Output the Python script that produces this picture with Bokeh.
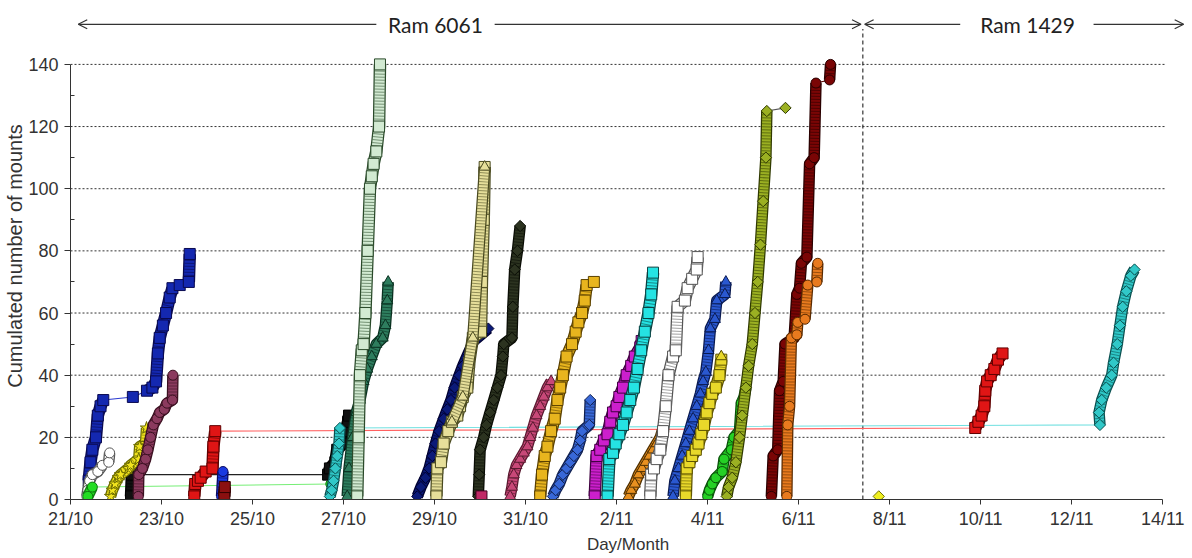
import math
from bokeh.plotting import figure
from bokeh.models import FixedTicker, Arrow, OpenHead, Title
from bokeh.core.properties import value
from bokeh.embed import file_html
from bokeh.resources import INLINE

# ---------------- axis ticks ----------------
x_ticks = [0, 2, 4, 6, 8, 10, 12, 14, 16, 18, 20, 22, 24]
x_tick_labels = ["21/10", "23/10", "25/10", "27/10", "29/10", "31/10", "2/11",
                 "4/11", "6/11", "8/11", "10/11", "12/11", "14/11"]
y_ticks = [0, 20, 40, 60, 80, 100, 120, 140]
y_minor = [10, 30, 50, 70, 90, 110, 130]

# days since 21/10 ; cumulated number of mounts
ram_change_day = 17.41
ram_labels = ["Ram 6061", "Ram 1429"]
ram_label_day = [8.02, 21.03]

blue_sq_x = [0.40, 0.44, 0.48, 0.56, 0.60, 0.66, 0.72, 1.37, 1.68, 1.80, 1.88, 1.92, 1.96, 2.03, 2.10, 2.18, 2.24, 2.40, 2.60, 2.62]
blue_sq_y = [6, 12, 16, 20, 27, 30, 32, 33, 35, 36, 38, 47, 52, 56, 60, 65, 68, 69, 70, 79]

white_ci_x = [0.36, 0.38, 0.42, 0.48, 0.60, 0.70, 0.84, 0.86]
white_ci_y = [1, 3, 6, 8, 9, 11, 12, 15]

green_ci1_x = [0.38, 0.48, 5.72]
green_ci1_y = [1, 4, 5]

black_sq_x = [1.33, 1.35, 5.66, 5.70, 5.82, 5.86, 5.98, 6.04, 6.10, 6.12]
black_sq_y = [1, 8, 8, 10, 12, 16, 18, 22, 25, 27]

yellow_star_x = [0.88, 0.92, 0.98, 1.05, 1.10, 1.27, 1.32, 1.50, 1.52, 1.65, 1.67]
yellow_star_y = [1, 3, 5, 7, 8, 10, 11, 13, 17, 18, 23]

mauve_ci_x = [1.49, 1.50, 1.58, 1.65, 1.70, 1.76, 1.82, 1.90, 1.96, 2.06, 2.12, 2.24, 2.25]
mauve_ci_y = [1, 8, 10, 13, 16, 20, 24, 26, 28, 29, 31, 32, 40]

red_sq_x = [2.72, 2.74, 2.80, 2.86, 2.97, 3.12, 3.14, 3.18, 19.88, 19.95, 20.02, 20.08, 20.10, 20.14, 20.22, 20.30, 20.38, 20.48]
red_sq_y = [1, 5, 6, 7, 9, 10, 17, 22, 23, 25, 27, 30, 35, 38, 40, 42, 45, 47]

blue_ci_x = [3.32, 3.35]
blue_ci_y = [1, 9]

darkred_sq_x = [3.38, 3.39]
darkred_sq_y = [1, 4]

cyan_di_x = [5.70, 5.74, 5.78, 5.82, 5.86, 5.90, 5.92, 22.62, 22.60, 22.66, 22.76, 22.88, 22.92, 23.00, 23.06, 23.12, 23.20, 23.30, 23.38]
cyan_di_y = [1, 3, 6, 10, 14, 18, 23, 24, 28, 32, 36, 40, 44, 50, 56, 62, 67, 72, 74]

dgreen_tri_x = [6.08, 6.12, 6.20, 6.28, 6.36, 6.44, 6.52, 6.62, 6.72, 6.86, 6.92, 6.96, 6.98]
dgreen_tri_y = [1, 10, 20, 28, 32, 38, 42, 46, 50, 52, 56, 64, 70]

lgreen_sq_x = [6.30, 6.33, 6.36, 6.40, 6.44, 6.48, 6.53, 6.58, 6.62, 6.66, 6.72, 6.78, 6.80]
lgreen_sq_y = [1, 20, 40, 48, 50, 60, 80, 100, 104, 108, 112, 120, 140]

navy_di_x = [7.62, 7.70, 7.80, 7.88, 7.95, 8.02, 8.10, 8.20, 8.28, 8.36, 8.44, 8.54, 8.62, 8.74, 8.86, 9.18]
navy_di_y = [1, 4, 7, 10, 14, 18, 22, 26, 29, 32, 36, 40, 43, 47, 51, 55]

khaki_sq_x = [8.04, 8.06, 8.14, 8.20, 8.30, 8.38, 8.50, 8.56, 8.62, 8.72, 8.76, 8.84, 9.02, 9.04, 9.08, 9.10]
khaki_sq_y = [1, 10, 12, 18, 22, 25, 27, 30, 33, 36, 44, 52, 54, 70, 90, 107]
khaki_tri_x = [8.38, 8.62, 8.84, 9.10]
khaki_tri_y = [25, 33, 52, 107]

dolive_di_x = [8.96, 8.98, 9.00, 9.08, 9.14, 9.22, 9.30, 9.38, 9.46, 9.50, 9.52, 9.70, 9.72, 9.76, 9.82, 9.88]
dolive_di_y = [1, 8, 16, 20, 24, 28, 32, 36, 40, 46, 50, 52, 62, 74, 80, 88]

crimson_sq_x = [9.03]
crimson_sq_y = [1]

pink_tri_x = [9.66, 9.70, 9.74, 9.80, 9.88, 9.96, 10.04, 10.10, 10.16, 10.24, 10.32, 10.40, 10.48, 10.56]
pink_tri_y = [1, 4, 8, 11, 13, 15, 17, 20, 23, 27, 30, 33, 36, 38]

gold_sq_x = [10.32, 10.36, 10.42, 10.48, 10.56, 10.64, 10.70, 10.76, 10.82, 10.90, 11.02, 11.10, 11.16, 11.24, 11.30, 11.34, 11.50]
gold_sq_y = [1, 8, 14, 17, 22, 26, 32, 36, 40, 46, 50, 54, 57, 60, 64, 69, 70]

blue_di_x = [10.60, 10.66, 10.74, 10.82, 10.90, 10.98, 11.06, 11.14, 11.20, 11.24, 11.40, 11.42]
blue_di_y = [1, 3, 5, 8, 10, 12, 14, 16, 19, 22, 24, 32]

magenta_sq_x = [11.52, 11.56, 11.64, 11.72, 11.80, 11.86, 11.92, 12.00, 12.06, 12.14, 12.22, 12.32, 12.40, 12.52, 12.55]
magenta_sq_y = [1, 14, 16, 19, 21, 25, 28, 30, 33, 36, 40, 43, 46, 49, 51]

cyan_sq_x = [11.80, 11.84, 11.92, 11.98, 12.06, 12.14, 12.22, 12.30, 12.38, 12.46, 12.54, 12.62, 12.70, 12.76, 12.80]
cyan_sq_y = [1, 13, 15, 18, 21, 24, 28, 32, 36, 42, 48, 54, 60, 66, 73]

orange_tri_x = [12.26, 12.32, 12.40, 12.48, 12.56, 12.64, 12.72, 12.80, 12.88, 12.96, 13.02]
orange_tri_y = [1, 3, 5, 8, 10, 12, 14, 16, 18, 20, 23]

white_sq_x = [12.74, 12.76, 12.82, 12.88, 12.96, 13.02, 13.08, 13.14, 13.24, 13.30, 13.34, 13.50, 13.56, 13.66, 13.76, 13.78]
white_sq_y = [1, 8, 10, 13, 16, 22, 30, 40, 46, 48, 62, 64, 68, 71, 74, 78]

blue_tri_x = [13.24, 13.28, 13.36, 13.44, 13.52, 13.60, 13.68, 13.76, 13.84, 13.90, 13.96, 14.02, 14.06, 14.16, 14.20, 14.38, 14.40]
blue_tri_y = [1, 6, 10, 14, 18, 22, 26, 30, 34, 38, 41, 48, 55, 58, 64, 66, 70]

yellow_sq_x = [13.52, 13.54, 13.60, 13.66, 13.74, 13.80, 13.86, 13.92, 13.98, 14.04, 14.10, 14.18, 14.26, 14.30]
yellow_sq_y = [1, 10, 12, 14, 16, 18, 21, 24, 28, 31, 34, 36, 40, 45]
yellow_tri_x = [14.30]
yellow_tri_y = [46]

green_ci2_x = [14.00, 14.04, 14.10, 14.18, 14.32, 14.36, 14.52, 14.58, 14.70, 14.74, 14.80, 14.84]
green_ci2_y = [1, 3, 5, 7, 9, 13, 16, 20, 22, 31, 33, 36]

olive_di_x = [14.42, 14.46, 14.54, 14.62, 14.70, 14.76, 14.84, 14.90, 14.98, 15.04, 15.10, 15.16, 15.22, 15.28, 15.30, 15.71]
olive_di_y = [1, 4, 7, 12, 20, 27, 36, 43, 50, 60, 70, 82, 96, 110, 125, 126]

maroon_ci_x = [15.40, 15.44, 15.54, 15.58, 15.66, 15.70, 15.90, 15.96, 16.02, 16.06, 16.18, 16.24, 16.34, 16.38, 16.68, 16.70]
maroon_ci_y = [1, 14, 16, 35, 38, 50, 52, 66, 68, 76, 78, 108, 110, 134, 135, 140]

orange_ci_x = [15.74, 15.76, 15.80, 15.84, 15.96, 15.98, 16.14, 16.20, 16.40, 16.42]
orange_ci_y = [1, 24, 30, 52, 53, 57, 58, 69, 70, 76]

yellow_di_x = [17.76]
yellow_di_y = [1]

# ---------------- styles ----------------
SQ = dict(marker="square", size=11, angle=0.0, band=11)
CI = dict(marker="circle", size=10, angle=0.0, band=10)
DI = dict(marker="square", size=8, angle=math.pi / 4, band=10)
TR = dict(marker="triangle", size=11, angle=0.0, band=10)
ST = dict(marker="star", size=13, angle=0.0, band=10)

series = [
    dict(x=blue_sq_x, y=blue_sq_y, fill="#1428b0", edge="#0a0a50", line="#2a3ad0", **SQ),
    dict(x=white_ci_x, y=white_ci_y, fill="#ffffff", edge="#555555", line="#777777", **CI),
    dict(x=green_ci1_x, y=green_ci1_y, fill="#22dd22", edge="#117711", line="#77ee77", **CI),
    dict(x=black_sq_x, y=black_sq_y, fill="#111111", edge="#000000", line="#222222", **SQ),
    dict(x=yellow_star_x, y=yellow_star_y, fill="#f2e41e", edge="#6b6b00", line="#c8c000", **ST),
    dict(x=mauve_ci_x, y=mauve_ci_y, fill="#8b3a5e", edge="#3a1020", line="#8b3a5e", **CI),
    dict(x=red_sq_x, y=red_sq_y, fill="#e01515", edge="#600000", line="#ff6060", **SQ),
    dict(x=blue_ci_x, y=blue_ci_y, fill="#1a3ae0", edge="#0a0a60", line="#1a3ae0", **CI),
    dict(x=darkred_sq_x, y=darkred_sq_y, fill="#8b1010", edge="#300000", line="#8b1010", **SQ),
    dict(x=cyan_di_x, y=cyan_di_y, fill="#30c8c8", edge="#0a5050", line="#70e0e0", **DI),
    dict(x=dgreen_tri_x, y=dgreen_tri_y, fill="#2e7d5e", edge="#0a3020", line="#2e7d5e", **TR),
    dict(x=lgreen_sq_x, y=lgreen_sq_y, fill="#d2ead2", edge="#2a4a2a", line="#2a4a2a", **SQ),
    dict(x=navy_di_x, y=navy_di_y, fill="#0b1a78", edge="#000030", line="#0b1a78", **DI),
    dict(x=khaki_sq_x, y=khaki_sq_y, fill="#e6df9a", edge="#4a4a20", line="#4a4a20", **SQ),
    dict(x=khaki_tri_x, y=khaki_tri_y, fill="#e6df9a", edge="#4a4a20", line=None, **TR),
    dict(x=dolive_di_x, y=dolive_di_y, fill="#2c3320", edge="#0a0d05", line="#2c3320", **DI),
    dict(x=crimson_sq_x, y=crimson_sq_y, fill="#c02a66", edge="#400020", line=None, **SQ),
    dict(x=pink_tri_x, y=pink_tri_y, fill="#c84878", edge="#5a1a30", line="#c84878", **TR),
    dict(x=gold_sq_x, y=gold_sq_y, fill="#e8b51e", edge="#5a4000", line="#8a6a00", **SQ),
    dict(x=blue_di_x, y=blue_di_y, fill="#3868d8", edge="#102050", line="#3868d8", **DI),
    dict(x=magenta_sq_x, y=magenta_sq_y, fill="#cc1fcc", edge="#400040", line="#cc1fcc", **SQ),
    dict(x=cyan_sq_x, y=cyan_sq_y, fill="#25e3e3", edge="#0a4040", line="#25c3c3", **SQ),
    dict(x=orange_tri_x, y=orange_tri_y, fill="#e89020", edge="#503000", line="#e89020", **TR),
    dict(x=white_sq_x, y=white_sq_y, fill="#ffffff", edge="#555555", line="#777777", **SQ),
    dict(x=blue_tri_x, y=blue_tri_y, fill="#2a58d0", edge="#0a1a50", line="#2a58d0", **TR),
    dict(x=yellow_sq_x, y=yellow_sq_y, fill="#e8d82a", edge="#5a5000", line="#8a8000", **SQ),
    dict(x=yellow_tri_x, y=yellow_tri_y, fill="#e8d82a", edge="#5a5000", line=None, **TR),
    dict(x=green_ci2_x, y=green_ci2_y, fill="#25d025", edge="#0a500a", line="#25d025", **CI),
    dict(x=olive_di_x, y=olive_di_y, fill="#9bb022", edge="#303a00", line="#555555", **DI),
    dict(x=maroon_ci_x, y=maroon_ci_y, fill="#7a0505", edge="#2a0000", line="#5a0000", **CI),
    dict(x=orange_ci_x, y=orange_ci_y, fill="#e87a1e", edge="#5a2a00", line="#e87a1e", **CI),
    dict(x=yellow_di_x, y=yellow_di_y, fill="#f0f020", edge="#707000", line=None, **DI),
]

# ---------------- figure ----------------
W, H = 1188, 556
BL, BR, BT, BB = 70, 3, 12, 55
X_END, Y_END = 24.5, 156.7
px_day = (W - BL - BR) / X_END
px_unit = (H - BT - BB) / Y_END

p = figure(width=W, height=H, x_range=(0, X_END), y_range=(0, Y_END),
           output_backend="svg", toolbar_location=None,
           min_border_left=BL, min_border_right=BR, min_border_top=BT, min_border_bottom=BB)
p.outline_line_color = None
p.background_fill_color = "white"
p.border_fill_color = "white"
p.xgrid.visible = False
p.ygrid.visible = False

ax_col = "#333333"
p.xaxis.ticker = FixedTicker(ticks=x_ticks)
p.xaxis.major_label_overrides = {t: lab for t, lab in zip(x_ticks, x_tick_labels)}
p.xaxis.bounds = (x_ticks[0], x_ticks[-1])
p.xaxis.axis_label = "Day/Month"
p.yaxis.ticker = FixedTicker(ticks=y_ticks, minor_ticks=y_minor)
p.yaxis.bounds = (y_ticks[0], y_ticks[-1])
for ax in (p.xaxis, p.yaxis):
    ax.axis_line_color = ax_col
    ax.major_tick_line_color = ax_col
    ax.minor_tick_line_color = ax_col
    ax.major_label_text_font = "Liberation Sans"
    ax.major_label_text_font_size = "18px"
    ax.major_label_text_color = "#333333"
    ax.axis_label_text_font = "Liberation Sans"
    ax.axis_label_text_font_size = "17px"
    ax.axis_label_text_font_style = "normal"
    ax.axis_label_text_color = "#333333"
p.xaxis.major_tick_out = 5
p.xaxis.major_tick_in = 0
p.xaxis.minor_tick_out = 0
p.xaxis.minor_tick_in = 0
p.xaxis.major_label_standoff = 4
p.xaxis.axis_label_standoff = 3
p.yaxis.major_tick_out = 6
p.yaxis.major_tick_in = 0
p.yaxis.minor_tick_out = 0
p.yaxis.minor_tick_in = 4
p.yaxis.major_label_standoff = 6

# y axis title, as a side title
p.add_layout(Title(text="Cumulated number of mounts", align="center",
                   text_font="Liberation Sans", text_font_size="20px",
                   text_font_style="normal", text_color="#333333", standoff=0), "left")

# horizontal dashed grid lines
gy = y_ticks[1:]
p.segment(x0=[x_ticks[0]] * len(gy), y0=gy, x1=[x_ticks[-1] + 0.07] * len(gy), y1=gy,
          line_color="#333333", line_width=1, line_dash="2 2")

# vertical dashed ram-change line
top_y = 152.9
p.segment(x0=[ram_change_day], y0=[0], x1=[ram_change_day], y1=[top_y - 1.5],
          line_color="#333333", line_width=1.2, line_dash="4 3")

# arrows and ram labels
arrow_kw = dict(line_color="#333333", line_width=1.2)
for xs, xe in [(6.72, 0.17), (9.32, ram_change_day - 0.04),
               (19.55, ram_change_day + 0.04), (22.48, 24.46)]:
    p.add_layout(Arrow(end=OpenHead(size=9, line_color="#333333", line_width=1.2),
                       x_start=xs, y_start=top_y, x_end=xe, y_end=top_y, **arrow_kw))
p.text(x=ram_label_day, y=[top_y] * 2, text=ram_labels, text_font=value("Lato"),
       text_font_size="21px", text_align="center", text_baseline="middle",
       text_color="#222222")


def dense_runs(xs, ys):
    rx, ry = [], []
    cx = cy = None
    for i in range(len(xs) - 1):
        dxp = abs(xs[i + 1] - xs[i]) * px_day
        dyp = abs(ys[i + 1] - ys[i]) * px_unit
        if dyp > 0 and dxp <= dyp + 3:
            if cx is None:
                cx, cy = [xs[i]], [ys[i]]
            cx.append(xs[i + 1])
            cy.append(ys[i + 1])
        else:
            if cx:
                rx.append(cx)
                ry.append(cy)
            cx = cy = None
    if cx:
        rx.append(cx)
        ry.append(cy)
    return rx, ry


# thin connecting lines first
for s in series:
    if s["line"] and len(s["x"]) > 1:
        p.line(s["x"], s["y"], line_color=s["line"], line_width=1.1)

# stacked marker columns and markers
for s in series:
    rx, ry = dense_runs(s["x"], s["y"])
    if rx:
        b = s["band"]
        p.multi_line(rx, ry, line_color=s["edge"], line_width=b + 1.5,
                     line_cap="butt", line_join="round")
        p.multi_line(rx, ry, line_color=s["fill"], line_width=b - 1,
                     line_cap="butt", line_join="round")
        p.multi_line(rx, ry, line_color=s["edge"], line_alpha=0.55, line_width=b - 1,
                     line_dash="1 2", line_cap="butt", line_join="round")
    p.scatter(s["x"], s["y"], marker=s["marker"], size=s["size"], angle=s["angle"],
              fill_color=s["fill"], line_color=s["edge"], line_width=1)

open("out.html", "w").write(file_html(p, INLINE))
